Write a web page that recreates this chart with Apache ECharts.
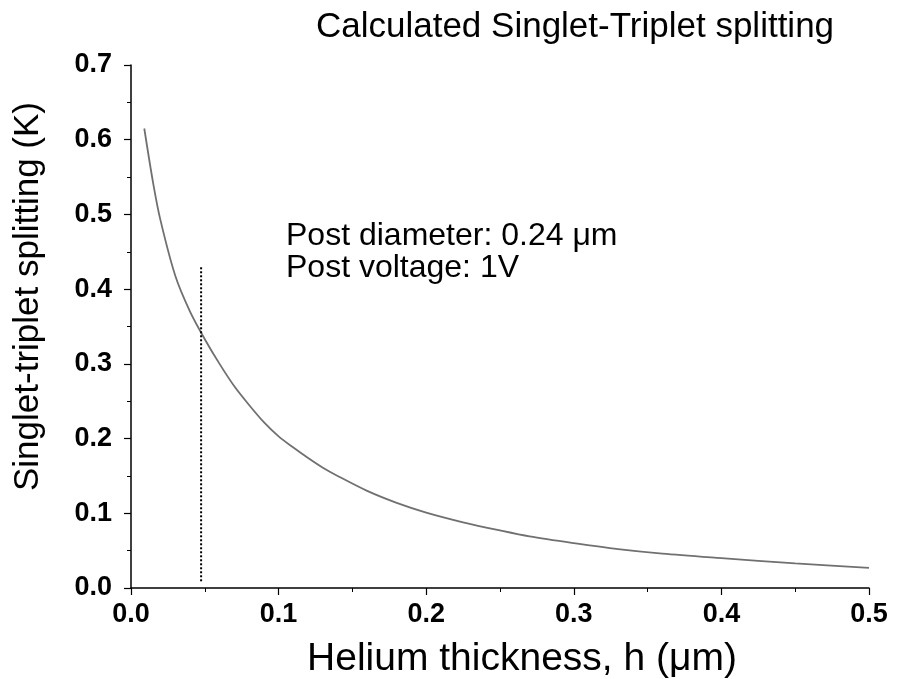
<!DOCTYPE html>
<html>
<head>
<meta charset="utf-8">
<script src="https://cdn.jsdelivr.net/npm/echarts@6/dist/echarts.min.js"></script>
<style>
  html, body { margin: 0; padding: 0; background: #fff; }
  #chart { width: 903px; height: 679px; }
</style>
</head>
<body>
<div id="chart"></div>
<script>
// helium thickness h (um) and the calculated splitting (K)
const thickness = [0.009, 0.015, 0.02, 0.03, 0.04, 0.05, 0.06, 0.07, 0.08, 0.09, 0.1, 0.11, 0.12, 0.13, 0.14, 0.16, 0.18, 0.2, 0.225, 0.25, 0.27, 0.3, 0.33, 0.36, 0.4, 0.45, 0.5]
const splitting = [0.615, 0.542, 0.492, 0.418, 0.370, 0.333, 0.300, 0.270, 0.245, 0.222, 0.203, 0.188, 0.174, 0.161, 0.150, 0.130, 0.114, 0.101, 0.088, 0.077, 0.069, 0.060, 0.052, 0.046, 0.040, 0.033, 0.027]

// dotted marker line at h = 0.0475 um
const markerX = [0.0475, 0.0475]
const markerY = [0.009, 0.431]

const notes = ['Post diameter: 0.24 μm', 'Post voltage: 1V']

const font = 'Liberation Sans, Arial, sans-serif'

let chart = echarts.init(document.getElementById('chart'))

let option = {
	animation: false,
	backgroundColor: '#fff',
	title: {
		text: 'Calculated Singlet-Triplet splitting',
		left: 570,
		top: 5,
		textAlign: 'center',
		textStyle: {
			fontFamily: font,
			fontSize: 35,
			fontWeight: 'normal',
			color: '#000'
		}
	},
	grid: {
		left: 131,
		right: 34,
		top: 65,
		bottom: 91,
		containLabel: false,
		outerBoundsMode: 'none'
	},
	xAxis: {
		type: 'value',
		min: 0,
		max: 0.5,
		interval: 0.1,
		name: 'Helium thickness, h (μm)',
		nameLocation: 'middle',
		nameGap: 52,
		nameTextStyle: {
			fontFamily: font,
			fontSize: 39,
			color: '#000',
			padding: [0, 0, 0, 44]
		},
		axisLine: { show: true, onZero: false, lineStyle: { color: '#000', width: 1.5 } },
		axisTick: { show: true, inside: false, length: 7, lineStyle: { color: '#000', width: 1.2 } },
		minorTick: { show: true, splitNumber: 2, length: 4, lineStyle: { color: '#000', width: 1 } },
		splitLine: { show: false },
		axisLabel: {
			margin: 13,
			fontFamily: font,
			fontSize: 27,
			fontWeight: 'bold',
			color: '#000',
			formatter: v => v.toFixed(1)
		}
	},
	yAxis: {
		type: 'value',
		min: 0,
		max: 0.7,
		interval: 0.1,
		name: 'Singlet-triplet splitting (K)',
		nameLocation: 'middle',
		nameGap: 85,
		nameTextStyle: {
			fontFamily: font,
			fontSize: 35,
			color: '#000',
			padding: [0, 0, 0, 60]
		},
		axisLine: { show: true, onZero: false, lineStyle: { color: '#000', width: 1.5 } },
		axisTick: { show: true, inside: false, length: 7, lineStyle: { color: '#000', width: 1.2 } },
		minorTick: { show: true, splitNumber: 2, length: 4, lineStyle: { color: '#000', width: 1 } },
		splitLine: { show: false },
		axisLabel: {
			margin: 19,
			fontFamily: font,
			fontSize: 27,
			fontWeight: 'bold',
			color: '#000',
			formatter: v => v.toFixed(1)
		}
	},
	graphic: [{
		type: 'text',
		left: 286,
		top: 220,
		style: {
			text: notes.join('\n'),
			font: '32px ' + font,
			lineHeight: 32,
			fill: '#000'
		}
	}],
	series: [{
		name: 'splitting',
		type: 'line',
		smooth: 0.3,
		symbol: 'none',
		data: thickness.map((h, i) => [h, splitting[i]]),
		lineStyle: { color: '#707070', width: 1.8 }
	}, {
		name: 'marker',
		type: 'line',
		symbol: 'none',
		data: markerX.map((h, i) => [h, markerY[i]]),
		lineStyle: { color: '#000', width: 2, type: [2, 2] }
	}]
}

chart.setOption(option)
</script>
</body>
</html>
